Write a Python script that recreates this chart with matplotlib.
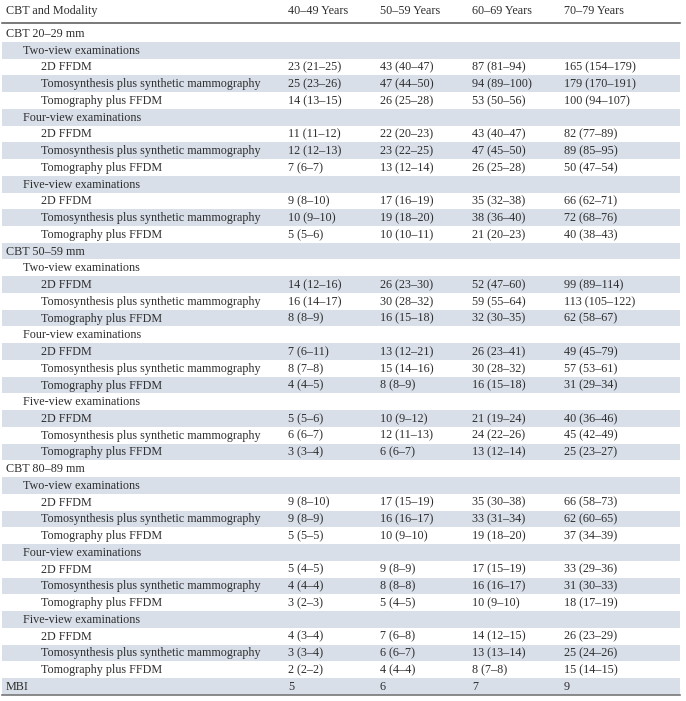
import matplotlib.pyplot as plt
from matplotlib.patches import Rectangle

plt.rcParams['font.family'] = ['Liberation Serif', 'DejaVu Serif']

columns = ['CBT and Modality', '40–49 Years', '50–59 Years', '60–69 Years', '70–79 Years']
cbt_groups = ['CBT 20–29 mm', 'CBT 50–59 mm', 'CBT 80–89 mm']
view_groups = ['Two-view examinations', 'Four-view examinations', 'Five-view examinations']
modalities = ['2D FFDM', 'Tomosynthesis plus synthetic mammography', 'Tomography plus FFDM']

# values[cbt][view][modality] -> one cell per age group
values = [
    [
        [['23 (21–25)', '43 (40–47)', '87 (81–94)', '165 (154–179)'],
         ['25 (23–26)', '47 (44–50)', '94 (89–100)', '179 (170–191)'],
         ['14 (13–15)', '26 (25–28)', '53 (50–56)', '100 (94–107)']],
        [['11 (11–12)', '22 (20–23)', '43 (40–47)', '82 (77–89)'],
         ['12 (12–13)', '23 (22–25)', '47 (45–50)', '89 (85–95)'],
         ['7 (6–7)', '13 (12–14)', '26 (25–28)', '50 (47–54)']],
        [['9 (8–10)', '17 (16–19)', '35 (32–38)', '66 (62–71)'],
         ['10 (9–10)', '19 (18–20)', '38 (36–40)', '72 (68–76)'],
         ['5 (5–6)', '10 (10–11)', '21 (20–23)', '40 (38–43)']],
    ],
    [
        [['14 (12–16)', '26 (23–30)', '52 (47–60)', '99 (89–114)'],
         ['16 (14–17)', '30 (28–32)', '59 (55–64)', '113 (105–122)'],
         ['8 (8–9)', '16 (15–18)', '32 (30–35)', '62 (58–67)']],
        [['7 (6–11)', '13 (12–21)', '26 (23–41)', '49 (45–79)'],
         ['8 (7–8)', '15 (14–16)', '30 (28–32)', '57 (53–61)'],
         ['4 (4–5)', '8 (8–9)', '16 (15–18)', '31 (29–34)']],
        [['5 (5–6)', '10 (9–12)', '21 (19–24)', '40 (36–46)'],
         ['6 (6–7)', '12 (11–13)', '24 (22–26)', '45 (42–49)'],
         ['3 (3–4)', '6 (6–7)', '13 (12–14)', '25 (23–27)']],
    ],
    [
        [['9 (8–10)', '17 (15–19)', '35 (30–38)', '66 (58–73)'],
         ['9 (8–9)', '16 (16–17)', '33 (31–34)', '62 (60–65)'],
         ['5 (5–5)', '10 (9–10)', '19 (18–20)', '37 (34–39)']],
        [['5 (4–5)', '9 (8–9)', '17 (15–19)', '33 (29–36)'],
         ['4 (4–4)', '8 (8–8)', '16 (16–17)', '31 (30–33)'],
         ['3 (2–3)', '5 (4–5)', '10 (9–10)', '18 (17–19)']],
        [['4 (3–4)', '7 (6–8)', '14 (12–15)', '26 (23–29)'],
         ['3 (3–4)', '6 (6–7)', '13 (13–14)', '25 (24–26)'],
         ['2 (2–2)', '4 (4–4)', '8 (7–8)', '15 (14–15)']],
    ],
]
mbi_values = ['5', '6', '7', '9']

# flatten to (label, indent level, cells)
rows = []
for i, cbt in enumerate(cbt_groups):
    rows.append((cbt, 0, []))
    for j, view in enumerate(view_groups):
        rows.append((view, 1, []))
        for k, mod in enumerate(modalities):
            rows.append((mod, 2, values[i][j][k]))
rows.append(('MBI', 0, mbi_values))

W, H = 686, 701
fig = plt.figure(figsize=(W / 100, H / 100), dpi=100)
ax = fig.add_axes([0, 0, 1, 1])
ax.set_xlim(0, W)
ax.set_ylim(H, 0)
ax.axis('off')

txt = '#2e2e2e'
shade = '#d8dfe9'
fs = 8.7
col_x = [6, 288, 380, 472, 564]
indent = [0, 17, 35]
y0 = 33.5
dy = 16.74
hdr_y = 11

for c, x in zip(columns, col_x):
    ax.text(x, hdr_y, c, ha='left', va='center', fontsize=fs, color=txt)
ax.plot([2, 680], [23, 23], color='#555555', lw=1.1)

for r, (label, lvl, cells) in enumerate(rows):
    y = y0 + r * dy
    if r % 2 == 1:
        ax.add_patch(Rectangle((2, y - dy / 2), 678, dy, color=shade, lw=0))
    ax.text(col_x[0] + indent[lvl], y + 0.5, label, ha='left', va='center', fontsize=fs, color=txt)
    for x, v in zip(col_x[1:], cells):
        ax.text(x, y + 0.5, v, ha='left', va='center', fontsize=fs, color=txt)

ybot = y0 + (len(rows) - 0.5) * dy
ax.plot([2, 680], [ybot, ybot], color='#777777', lw=1.2)

fig.savefig('out.png', dpi=100)
